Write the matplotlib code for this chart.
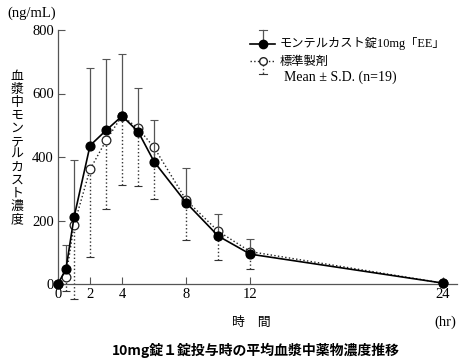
import matplotlib.pyplot as plt
import numpy as np

# sampling times (hr)
times = [0, 0.5, 1, 2, 3, 4, 5, 6, 8, 10, 12, 24]

# モンテルカスト錠10mg「EE」 (mean, SD)
test_mean = [0, 48, 210, 436, 484, 529, 480, 385, 256, 151, 94, 3]
test_sd = [0, 74, 179, 243, 224, 194, 138, 133, 109, 69, 48, 0]

# 標準製剤 (mean, SD)
ref_mean = [0, 23, 186, 361, 452, 530, 490, 430, 264, 166, 102, 3]
ref_sd = [0, 44, 234, 276, 217, 218, 180, 163, 125, 89, 54, 0]

xticks = [0, 2, 4, 8, 12, 24]
yticks = [0, 200, 400, 600, 800]

SERIF = ["Liberation Serif", "Noto Sans CJK JP"]
JP = ["Noto Sans CJK JP", "DejaVu Sans"]

t = np.array(times)
tm, ts = np.array(test_mean), np.array(test_sd)
rm, rs = np.array(ref_mean), np.array(ref_sd)
has_sd = (ts > 0) | (rs > 0)

fig = plt.figure(figsize=(4.62, 3.62), dpi=100)
ax = fig.add_axes([58 / 462, 1 - 284 / 362, 399 / 462, 254 / 362])

# reference product: dotted line, hollow markers, SD downward only
eb = ax.errorbar(t[has_sd], rm[has_sd], yerr=[rs[has_sd], np.zeros(has_sd.sum())],
                 fmt="none", ecolor="#333333", elinewidth=1.0, capsize=3, capthick=0.8,
                 clip_on=False, zorder=2)
for c in eb[2]:
    c.set_linestyle(":")
ax.plot(t, rm, ls=":", color="#222222", lw=1.0, marker="o", ms=6.3,
        mfc="white", mec="#222222", mew=0.9, clip_on=False, zorder=3)

# test product: solid line, filled markers, SD upward only
ax.errorbar(t[has_sd], tm[has_sd], yerr=[np.zeros(has_sd.sum()), ts[has_sd]],
            fmt="none", ecolor="#555555", elinewidth=0.9, capsize=3, capthick=0.8,
            clip_on=False, zorder=4)
ax.plot(t, tm, ls="-", color="black", lw=1.2, marker="o", ms=6.3,
        mfc="black", mec="black", clip_on=False, zorder=5)

ax.set_xlim(0, 24.9)
ax.set_ylim(0, 800)
ax.set_xticks(xticks)
ax.set_yticks(yticks)
ax.set_xticklabels([str(v) for v in xticks], family=SERIF, fontsize=10.5)
ax.set_yticklabels([str(v) for v in yticks], family=SERIF, fontsize=10.5)
ax.tick_params(direction="in", length=5, width=0.8, color="#555555", pad=3)
for s in ["top", "right"]:
    ax.spines[s].set_visible(False)
for s in ["left", "bottom"]:
    ax.spines[s].set_color("#555555")
    ax.spines[s].set_linewidth(0.9)

# axis texts
fig.text(7 / 462, 1 - 13 / 362, "(ng/mL)", family=SERIF, fontsize=10.5, va="center", ha="left")
fig.text(17 / 462, 1 - 148 / 362, "\n".join("血漿中モンテルカスト濃度"), family=JP,
         fontsize=9.3, va="center", ha="center", linespacing=1.0)
fig.text(251 / 462, 1 - 322 / 362, "時　間", family=JP, fontsize=9.3, va="center", ha="center")
fig.text(445 / 462, 1 - 322 / 362, "(hr)", family=SERIF, fontsize=10.5, va="center", ha="center")
fig.text(256 / 462, 1 - 350 / 362, "10mg錠１錠投与時の平均血漿中薬物濃度推移", family=JP,
         fontsize=10, fontweight="bold", va="center", ha="center")

# hand-made legend
def px(x, y):
    return x / 462, 1 - y / 362

lx0, lx1, lxm = 250, 275, 263
fig.add_artist(plt.Line2D(*zip(px(lx0, 44), px(lx1, 44)), color="black", lw=1.2))
fig.add_artist(plt.Line2D(*zip(px(lxm, 44), px(lxm, 30)), color="#555555", lw=0.9))
fig.add_artist(plt.Line2D(*zip(px(lxm - 4, 30), px(lxm + 4, 30)), color="#555555", lw=0.8))
fig.add_artist(plt.Line2D([px(lxm, 44)[0]], [px(lxm, 44)[1]], marker="o", ms=6,
                          color="black", ls="none"))
fig.add_artist(plt.Line2D(*zip(px(lx0, 61), px(lx1, 61)), color="#222222", lw=1.0, ls=":"))
fig.add_artist(plt.Line2D(*zip(px(lxm, 61), px(lxm, 74)), color="#333333", lw=1.0, ls=":"))
fig.add_artist(plt.Line2D(*zip(px(lxm - 4, 74), px(lxm + 4, 74)), color="#333333", lw=0.8))
fig.add_artist(plt.Line2D([px(lxm, 61)[0]], [px(lxm, 61)[1]], marker="o", ms=5.5,
                          mfc="white", mec="#222222", ls="none"))
fig.text(*px(280, 44), "モンテルカスト錠10mg「EE」", family=SERIF, fontsize=8.8, va="center", ha="left")
fig.text(*px(280, 61), "標準製剤", family=JP, fontsize=8.8, va="center", ha="left")
fig.text(*px(284, 77), "Mean ± S.D. (n=19)", family=SERIF, fontsize=10, va="center", ha="left")

fig.savefig("out.png", dpi=100)
